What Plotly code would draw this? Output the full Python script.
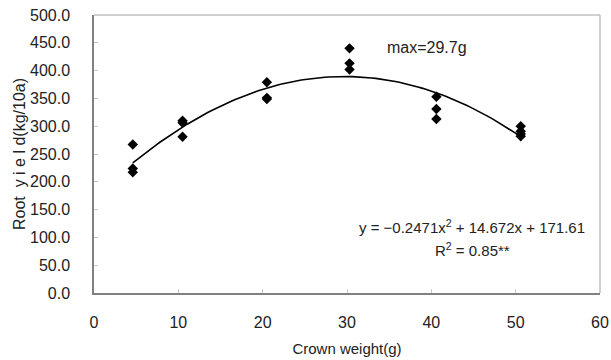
import plotly.graph_objects as go
import numpy as np

# Data
crown_weight = [4.6, 4.6, 4.6, 10.5, 10.5, 10.5, 20.5, 20.5, 20.5,
                30.3, 30.3, 30.3, 40.6, 40.6, 40.6, 50.6, 50.6, 50.6, 50.6]
root_yield = [267, 224, 217, 310, 306, 281, 379, 351, 349,
              440, 413, 402, 353, 331, 313, 300, 291, 286, 282]

# Quadratic trendline coefficients shown on chart
coef_a, coef_b, coef_c = -0.2471, 14.672, 171.61
fit_x_range = [4.6, 50.6]

x_ticks = [0, 10, 20, 30, 40, 50, 60]
y_ticks = [0, 50, 100, 150, 200, 250, 300, 350, 400, 450, 500]

fx = np.linspace(fit_x_range[0], fit_x_range[1], 100)
fy = coef_a * fx**2 + coef_b * fx + coef_c

font_family = "Liberation Sans, Arial, sans-serif"
txt_color = "#222222"

fig = go.Figure()
fig.add_trace(go.Scatter(x=fx, y=fy, mode="lines",
                         line=dict(color="black", width=1.6),
                         showlegend=False, hoverinfo="skip"))
fig.add_trace(go.Scatter(x=crown_weight, y=root_yield, mode="markers",
                         marker=dict(symbol="diamond", size=8, color="black"),
                         showlegend=False))

fig.update_layout(
    width=611, height=360,
    margin=dict(l=94, r=11, t=15, b=67, autoexpand=False),
    paper_bgcolor="white", plot_bgcolor="white",
    font=dict(family=font_family, size=15, color=txt_color),
    xaxis=dict(range=[0, 60], tickvals=x_ticks, showgrid=False, zeroline=False,
               automargin=False,
               showline=True, linecolor="#808080", linewidth=1.5,
               ticks="inside", ticklen=4, tickcolor="#c8c8c8",
               tickfont=dict(size=16), ticklabelstandoff=14,
               title=dict(text="Crown weight(g)", font=dict(size=15), standoff=14)),
    yaxis=dict(range=[0, 500], tickvals=y_ticks,
               ticktext=[f"{v:.1f}" for v in y_ticks],
               automargin=False,
               showgrid=False, zeroline=False,
               showline=True, linecolor="#808080", linewidth=1.5,
               ticks="inside", ticklen=4, tickcolor="#c8c8c8",
               tickfont=dict(size=16), ticklabelstandoff=19,
               title=dict(text="Root  y i e l d(kg/10a)", font=dict(size=16), standoff=0)),
    shapes=[
        dict(type="line", xref="paper", yref="paper", x0=0, x1=1, y0=1, y1=1,
             line=dict(color="#c0c0c0", width=1.5)),
        dict(type="line", xref="paper", yref="paper", x0=1, x1=1, y0=0, y1=1,
             line=dict(color="#c0c0c0", width=1.5)),
    ],
    annotations=[
        dict(x=34.5, y=441, xref="x", yref="y", text="max=29.7g", showarrow=False,
             xanchor="left", yanchor="middle", font=dict(size=16, color=txt_color)),
        dict(x=58.46, y=119, xref="x", yref="y",
             text="y = −0.2471x<sup>2</sup> + 14.672x + 171.61", showarrow=False,
             xanchor="right", yanchor="middle",
             font=dict(size=15, color=txt_color)),
        dict(x=49.6, y=78, xref="x", yref="y",
             text="R<sup>2</sup> = 0.85**", showarrow=False,
             xanchor="right", yanchor="middle",
             font=dict(size=15, color=txt_color)),
    ],
)

fig.write_html(
    "out.html",
    config={"displayModeBar": False},
    post_script="document.body.style.margin='0';document.body.style.overflow='hidden';",
)
